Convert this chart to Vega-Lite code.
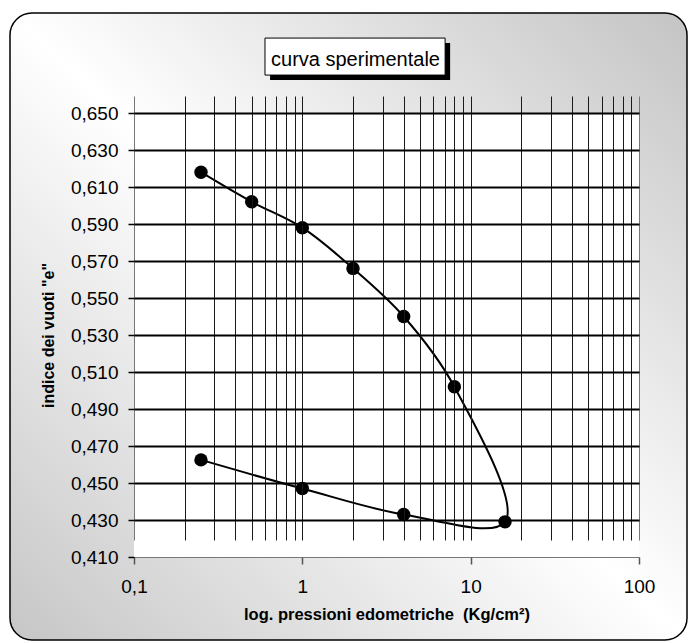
{
  "$schema": "https://vega.github.io/schema/vega-lite/v6.json",
  "width": 677,
  "height": 627,
  "autosize": {"type": "none"},
  "padding": {"left": 10, "top": 13, "right": 5, "bottom": 3},
  "background": "white",
  "title": {
    "text": "curva sperimentale",
    "anchor": "middle",
    "frame": "group",
    "baseline": "alphabetic",
    "offset": -73,
    "dx": 7,
    "font": "Liberation Sans",
    "fontSize": 20,
    "fontWeight": "normal",
    "color": "black"
  },
  "data": {
    "values": [
      {"p": 0.25, "e": 0.618, "seq": 1, "fase": "carico"},
      {"p": 0.5, "e": 0.602, "seq": 2, "fase": "carico"},
      {"p": 1, "e": 0.588, "seq": 3, "fase": "carico"},
      {"p": 2, "e": 0.566, "seq": 4, "fase": "carico"},
      {"p": 4, "e": 0.540, "seq": 5, "fase": "carico"},
      {"p": 8, "e": 0.502, "seq": 6, "fase": "carico"},
      {"p": 16, "e": 0.429, "seq": 7, "fase": "carico"},
      {"p": 4, "e": 0.433, "seq": 8, "fase": "scarico"},
      {"p": 1, "e": 0.447, "seq": 9, "fase": "scarico"},
      {"p": 0.25, "e": 0.4625, "seq": 10, "fase": "scarico"}
    ]
  },
  "layer": [
    {
      "data": {"values": [{}]},
      "mark": {"type": "rect", "fill": "black", "stroke": null},
      "encoding": {
        "x": {"datum": 0.643, "type": "quantitative"},
        "x2": {"datum": 7.55},
        "y": {"datum": 0.6678, "type": "quantitative"},
        "y2": {"datum": 0.6878}
      }
    },
    {
      "data": {"values": [{}]},
      "mark": {"type": "rect", "fill": "white", "stroke": "black", "strokeWidth": 1},
      "encoding": {
        "x": {"datum": 0.6, "type": "quantitative"},
        "x2": {"datum": 7.05},
        "y": {"datum": 0.6705, "type": "quantitative"},
        "y2": {"datum": 0.6905}
      }
    },
    {
      "data": {"values": [{}]},
      "mark": {"type": "rect", "fill": "white", "stroke": null},
      "encoding": {
        "x": {"datum": 0.1, "type": "quantitative"},
        "x2": {"datum": 100},
        "y": {"datum": 0.41, "type": "quantitative"},
        "y2": {"datum": 0.65}
      }
    },
    {
      "mark": {"type": "line", "interpolate": "catmull-rom", "color": "black", "strokeWidth": 2},
      "encoding": {
        "x": {
          "field": "p",
          "type": "quantitative",
          "scale": {"type": "log", "domain": [0.1, 100], "range": [124, 629], "nice": false},
          "axis": {
            "title": "log. pressioni edometriche\u00a0 (Kg/cm²)",
            "values": [0.1, 0.2, 0.3, 0.4, 0.5, 0.6, 0.7, 0.8, 0.9, 1, 2, 3, 4, 5, 6, 7, 8, 9, 10, 20, 30, 40, 50, 60, 70, 80, 90, 100],
            "labelExpr": "indexof([0.1, 1, 10, 100], datum.value) >= 0 ? replace(format(datum.value, '~g'), '.', ',') : ''",
            "labelOverlap": false,
            "labelBound": false,
            "labelFlush": false,
            "labelFont": "Liberation Sans",
            "labelFontSize": 19,
            "labelColor": "black",
            "labelPadding": 13,
            "tickSize": 7,
            "tickColor": "#555",
            "tickWidth": 1.5,
            "tickOpacity": {"condition": {"test": "indexof([0.1, 1, 10, 100], datum.value) >= 0", "value": 1}, "value": 0},
            "domain": false,
            "grid": true,
            "gridColor": {"condition": {"test": "datum.value == 0.1 || datum.value == 100", "value": "#777"}, "value": "#1a1a1a"},
            "gridWidth": 1,
            "gridOpacity": 1,
            "offset": -83,
            "zindex": 1,
            "titleFont": "Liberation Sans",
            "titleFontSize": 16.5,
            "titleFontWeight": "bold",
            "titleColor": "black",
            "titlePadding": 10
          }
        },
        "y": {
          "field": "e",
          "type": "quantitative",
          "scale": {"domain": [0.41, 0.65], "range": [544, 100], "zero": false, "nice": false},
          "axis": {
            "title": "indice dei vuoti \"e\"",
            "values": [0.41, 0.43, 0.45, 0.47, 0.49, 0.51, 0.53, 0.55, 0.57, 0.59, 0.61, 0.63, 0.65],
            "labelExpr": "replace(format(datum.value, '.3f'), '.', ',')",
            "labelFont": "Liberation Sans",
            "labelFontSize": 19,
            "labelColor": "black",
            "labelPadding": 10,
            "labelOverlap": false,
            "labelBound": false,
            "labelFlush": false,
            "tickSize": 6,
            "tickColor": "black",
            "tickWidth": 1.5,
            "domain": false,
            "grid": true,
            "gridColor": {"condition": {"test": "datum.value < 0.415", "value": "#777"}, "value": "black"},
            "gridWidth": {"condition": {"test": "datum.value < 0.415", "value": 1}, "value": 2},
            "gridOpacity": 1,
            "offset": -124,
            "zindex": 1,
            "titleFont": "Liberation Sans",
            "titleFontSize": 16,
            "titleFontWeight": "bold",
            "titleColor": "black",
            "titlePadding": 14
          }
        },
        "order": {"field": "seq", "type": "quantitative"}
      }
    },
    {
      "mark": {"type": "point", "filled": true, "size": 180, "color": "black", "opacity": 1},
      "encoding": {
        "x": {"field": "p", "type": "quantitative"},
        "y": {"field": "e", "type": "quantitative"}
      }
    }
  ],
  "config": {
    "view": {
      "fill": {
        "gradient": "linear",
        "x1": 0, "y1": 1, "x2": 1, "y2": 0,
        "stops": [
          {"offset": 0, "color": "#c6c6c6"},
          {"offset": 0.5, "color": "#ffffff"},
          {"offset": 1, "color": "#c4c4c4"}
        ]
      },
      "stroke": "black",
      "strokeWidth": 1.5,
      "cornerRadius": 22
    }
  }
}
